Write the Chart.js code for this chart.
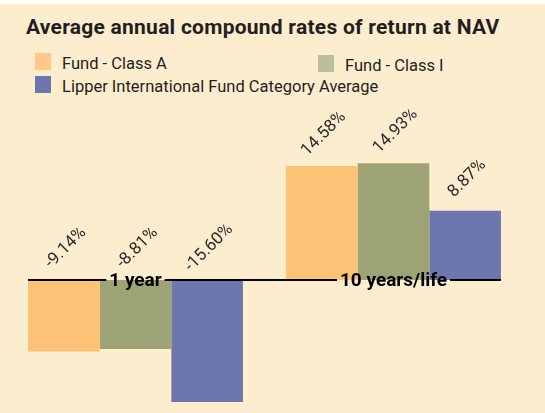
<!DOCTYPE html>
<html>
<head>
<meta charset="utf-8">
<script src="https://cdn.jsdelivr.net/npm/chart.js@4"></script>
<style>
  html, body { margin: 0; padding: 0; background: #ffffff; }
  #wrap { position: relative; width: 545px; height: 413px; overflow: hidden; }
  #bg { position: absolute; left: 0; top: 4px; width: 545px; height: 409px; background: #FDEDCF; }
  #title { position: absolute; left: 26px; top: 15px; font: bold 21px Roboto, sans-serif; letter-spacing: 0.25px; color: #231F20; white-space: nowrap; }
  .leg { position: absolute; font: 16.5px Roboto, sans-serif; color: #231F20; white-space: nowrap; }
  .sw { position: absolute; width: 16px; height: 17px; }
  canvas { position: absolute; left: 0; top: 0; }
</style>
</head>
<body>
<div id="wrap">
  <div id="bg"></div>
  <div id="title">Average annual compound rates of return at NAV</div>
  <div id="legend"></div>
  <canvas id="chart" width="545" height="413"></canvas>
</div>
<script>
const categories = ['1 year', '10 years/life'];
const seriesNames = ['Fund - Class A', 'Fund - Class I', 'Lipper International Fund Category Average'];
const classA = [-9.14, 14.58];
const classI = [-8.81, 14.93];
const lipper = [-15.60, 8.87];

const barColors = ['#FCC275', '#9DA374', '#6E77AD'];
const legendColors = ['#FDC888', '#B9BE9B', '#6E77AD'];

// legend (html)
const legendPos = [[35, 53], [318, 55], [35, 76]];
const legendEl = document.getElementById('legend');
seriesNames.forEach((name, i) => {
    const sw = document.createElement('div');
    sw.className = 'sw';
    sw.style.left = legendPos[i][0] + 'px';
    sw.style.top = legendPos[i][1] + 'px';
    sw.style.background = legendColors[i];
    legendEl.appendChild(sw);
    const tx = document.createElement('div');
    tx.className = 'leg';
    tx.style.left = (legendPos[i][0] + 27) + 'px';
    tx.style.top = (legendPos[i][1] + 1) + 'px';
    tx.textContent = name;
    legendEl.appendChild(tx);
});

const valueLabels = {
    id: 'valueLabels',
    afterDatasetsDraw(chart) {
        const ctx = chart.ctx;
        const zeroY = chart.scales.y.getPixelForValue(0);
        ctx.save();
        ctx.font = '17px Roboto, sans-serif';
        ctx.fillStyle = '#2a2a2a';
        ctx.textAlign = 'center';
        ctx.textBaseline = 'middle';
        chart.data.datasets.forEach((ds, di) => {
            const meta = chart.getDatasetMeta(di);
            meta.data.forEach((bar, i) => {
                const v = ds.data[i];
                const top = v < 0 ? zeroY : bar.y;
                ctx.save();
                ctx.translate(bar.x + 2, top - 32);
                ctx.rotate(-Math.PI / 4);
                ctx.fillText(v.toFixed(2) + '%', 0, 0);
                ctx.restore();
            });
        });

        // zero line with category labels sitting on it
        const first = chart.getDatasetMeta(0).data;
        const last = chart.getDatasetMeta(chart.data.datasets.length - 1).data;
        const x0 = first[0].x - first[0].width / 2;
        const x1 = last[last.length - 1].x + last[last.length - 1].width / 2;
        ctx.font = 'bold 19px Roboto, sans-serif';
        const gaps = categories.map((c, i) => {
            const cx = chart.scales.x.getPixelForValue(i);
            const w = ctx.measureText(c).width;
            return [cx - w / 2 - 3, cx + w / 2 + 3, cx];
        });
        ctx.strokeStyle = '#000000';
        ctx.lineWidth = 2;
        let start = x0;
        gaps.forEach(g => {
            ctx.beginPath();
            ctx.moveTo(start, zeroY);
            ctx.lineTo(g[0], zeroY);
            ctx.stroke();
            start = g[1];
        });
        ctx.beginPath();
        ctx.moveTo(start, zeroY);
        ctx.lineTo(x1, zeroY);
        ctx.stroke();
        ctx.fillStyle = '#000000';
        ctx.textAlign = 'center';
        ctx.textBaseline = 'middle';
        categories.forEach((c, i) => {
            ctx.fillText(c, gaps[i][2], zeroY + 1);
        });
        ctx.restore();
    }
};

new Chart(document.getElementById('chart'), {
    type: 'bar',
    data: {
        labels: categories,
        datasets: [
            { label: seriesNames[0], data: classA, backgroundColor: barColors[0] },
            { label: seriesNames[1], data: classI, backgroundColor: barColors[1] },
            { label: seriesNames[2], data: lipper, backgroundColor: barColors[2] }
        ]
    },
    options: {
        responsive: false,
        animation: false,
        categoryPercentage: 0.833,
        barPercentage: 1,
        layout: { padding: { left: 6.5, right: 22.5, top: 162.7, bottom: 7.9 } },
        plugins: {
            legend: { display: false },
            tooltip: { enabled: false }
        },
        scales: {
            x: { display: false, grid: { display: false } },
            y: { display: false, min: -16, max: 15, grid: { display: false } }
        }
    },
    plugins: [valueLabels]
});
</script>
</body>
</html>
